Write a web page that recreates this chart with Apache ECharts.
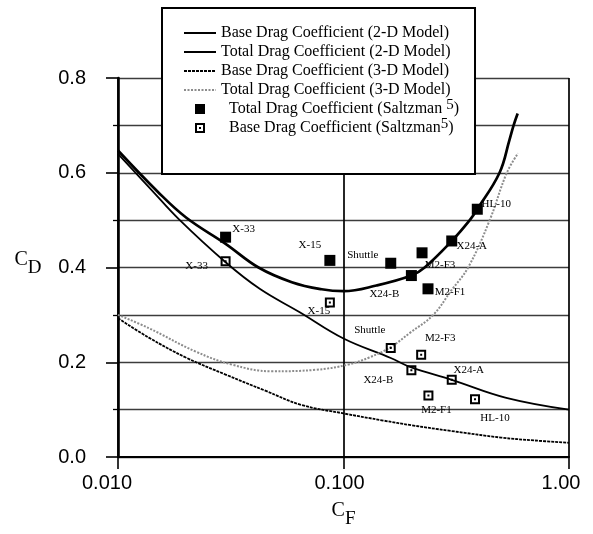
<!DOCTYPE html>
<html><head><meta charset="utf-8">
<script src="https://cdn.jsdelivr.net/npm/echarts@6/dist/echarts.min.js"></script>
<style>html,body{margin:0;padding:0;background:#fff}#c{width:593px;height:534px}</style>
</head><body><div id="c"></div>
<script>
// ---- data ----
const xTickLabels = ['0.010', '0.100', '1.00'];
const yTickLabels = ['0.0', '0.2', '0.4', '0.6', '0.8'];

const seriesNames = [
  'Base Drag Coefficient (2-D Model)',
  'Total Drag Coefficient (2-D Model)',
  'Base Drag Coefficient (3-D Model)',
  'Total Drag Coefficient (3-D Model)',
  'Total Drag Coefficient (Saltzman 5)',
  'Base Drag Coefficient (Saltzman5)'
];

const base2dCF = [0.01, 0.014, 0.0186, 0.030, 0.0425, 0.0637, 0.10, 0.162, 0.200, 0.302, 0.527, 1.0];
const base2dCD = [0.640, 0.565, 0.502, 0.411, 0.355, 0.306, 0.250, 0.209, 0.189, 0.163, 0.125, 0.100];

const total2dCF = [0.01, 0.015, 0.0201, 0.030, 0.042, 0.059, 0.080, 0.100, 0.140, 0.200, 0.229, 0.302, 0.363, 0.392, 0.492, 0.545, 0.568, 0.592];
const total2dCD = [0.647, 0.560, 0.505, 0.450, 0.400, 0.369, 0.354, 0.350, 0.362, 0.383, 0.400, 0.456, 0.500, 0.523, 0.600, 0.670, 0.700, 0.725];

const base3dCF = [0.01, 0.0137, 0.02, 0.03, 0.045, 0.065, 0.1, 0.15, 0.2, 0.3, 0.5, 0.7, 1.0];
const base3dCD = [0.293, 0.252, 0.210, 0.174, 0.140, 0.110, 0.092, 0.077, 0.067, 0.055, 0.041, 0.035, 0.030];

const total3dCF = [0.01, 0.0137, 0.022, 0.032, 0.048, 0.075, 0.105, 0.130, 0.162, 0.197, 0.250, 0.300, 0.357, 0.445, 0.530, 0.594];
const total3dCD = [0.300, 0.272, 0.223, 0.195, 0.181, 0.184, 0.195, 0.210, 0.232, 0.262, 0.300, 0.351, 0.400, 0.500, 0.600, 0.641];

const vehicleNames = ['X-33', 'X-15', 'Shuttle', 'X24-B', 'M2-F3', 'M2-F1', 'X24-A', 'HL-10'];
const saltzTotalCF = [0.030, 0.087, 0.162, 0.200, 0.223, 0.237, 0.302, 0.392];
const saltzTotalCD = [0.464, 0.415, 0.409, 0.383, 0.431, 0.355, 0.456, 0.523];
const saltzBaseCF  = [0.030, 0.087, 0.162, 0.200, 0.221, 0.238, 0.302, 0.383];
const saltzBaseCD  = [0.413, 0.326, 0.230, 0.183, 0.216, 0.130, 0.163, 0.122];

// ---- styling (label placement relative to marker) ----
const totalLabelOffset = {
  'X-33': [18, -8], 'X-15': [-20, -15], 'Shuttle': [-28, -8], 'X24-B': [-27, 19],
  'M2-F3': [18, 12], 'M2-F1': [22, 3], 'X24-A': [20, 5], 'HL-10': [19, -5]
};
const baseLabelOffset = {
  'X-33': [-29, 5], 'X-15': [-11, 9], 'Shuttle': [-21, -18], 'X24-B': [-33, 10],
  'M2-F3': [19, -17], 'M2-F1': [8, 15], 'X24-A': [17, -10], 'HL-10': [20, 19]
};

const SERIF = "'Liberation Serif', 'Times New Roman', serif";
const SANS = "'Liberation Sans', Arial, sans-serif";
const openSquare = 'path://M0,0H10V10H0Z M2,2V8H8V2Z M4,4H6V6H4Z';
const filledSquare = 'path://M0,0H10V10H0Z';

function pairs(xs, ys) { return xs.map((x, i) => [x, ys[i]]); }
function scatterData(xs, ys, offsets) {
  return xs.map((x, i) => ({
    name: vehicleNames[i],
    value: [x, ys[i]],
    label: { offset: offsets[vehicleNames[i]] }
  }));
}

const chart = echarts.init(document.getElementById('c'), null, { renderer: 'canvas' });

const lineBase = (name, xs, ys, lineStyle) => ({
  name, type: 'line', data: pairs(xs, ys), smooth: 0.4, symbol: 'none',
  lineStyle, itemStyle: { color: lineStyle.color }, z: 3
});

const scatterLabel = {
  show: true, position: 'inside', formatter: p => p.name,
  fontFamily: SERIF, fontSize: 11, color: '#000'
};

const noSym = { opacity: 0 };

chart.setOption({
  animation: false,
  backgroundColor: '#fff',
  grid: { left: 118, right: 24, top: 78, bottom: 71, containLabel: false },
  legend: {
    left: 162, top: 8, orient: 'vertical', selectedMode: false,
    backgroundColor: '#fff', borderColor: '#000', borderWidth: 2,
    padding: [14, 16, 35, 21], itemGap: -3, itemWidth: 32, itemHeight: 10,
    textStyle: {
      fontFamily: SERIF, fontSize: 16, color: '#000', lineHeight: 22,
      rich: {
        t: { fontFamily: SERIF, fontSize: 16, color: '#000' },
        ti: { fontFamily: SERIF, fontSize: 16, color: '#000', padding: [0, 0, 0, 8] },
        sup: { fontFamily: SERIF, fontSize: 15, color: '#000', verticalAlign: 'top' }
      }
    },
    formatter: name => {
      const m = name.match(/^(.*Saltzman\s?)5\)$/);
      if (m) return '{ti|' + m[1] + '}{sup|5}{t|)}';
      return name;
    },
    data: [
      { name: seriesNames[0], itemStyle: noSym },
      { name: seriesNames[1], itemStyle: noSym },
      { name: seriesNames[2], itemStyle: noSym },
      { name: seriesNames[3], itemStyle: noSym },
      { name: seriesNames[4], icon: filledSquare },
      { name: seriesNames[5], icon: openSquare }
    ],
    z: 10
  },
  xAxis: {
    type: 'log', logBase: 10, min: 0.01, max: 1,
    name: '{c|C}{s|F}', nameLocation: 'middle', nameGap: 58,
    nameTextStyle: {
      align: 'center', verticalAlign: 'middle',
      rich: {
        c: { fontFamily: SERIF, fontSize: 20, color: '#000', verticalAlign: 'top' },
        s: { fontFamily: SERIF, fontSize: 19, color: '#000', verticalAlign: 'bottom', padding: [9, 0, 0, 0] }
      }
    },
    axisLine: { show: true, onZero: false, lineStyle: { color: '#000', width: 2 } },
    axisTick: { show: true, length: 12, lineStyle: { color: '#000', width: 1.6 } },
    minorTick: { show: false },
    splitLine: { show: true, lineStyle: { color: '#000', width: 1.7 } },
    axisLabel: {
      margin: 16, color: '#000', fontFamily: SANS, fontSize: 20,
      formatter: v => {
        const i = Math.round(Math.log10(v)) + 2;
        return '{s' + i + '|' + xTickLabels[i] + '}';
      },
      rich: {
        s0: { fontFamily: SANS, fontSize: 20, color: '#000', padding: [0, 22, 0, 0] },
        s1: { fontFamily: SANS, fontSize: 20, color: '#000', padding: [0, 8, 0, 0] },
        s2: { fontFamily: SANS, fontSize: 20, color: '#000', padding: [0, 16, 0, 0] }
      }
    }
  },
  yAxis: {
    type: 'value', min: 0, max: 0.8, interval: 0.2,
    name: '{c|C}{s|D}', nameLocation: 'middle', nameGap: 90, nameRotate: 0,
    nameTextStyle: {
      align: 'center', verticalAlign: 'middle', padding: [0, 0, 8, 0],
      rich: {
        c: { fontFamily: SERIF, fontSize: 20, color: '#000', verticalAlign: 'top' },
        s: { fontFamily: SERIF, fontSize: 19, color: '#000', verticalAlign: 'bottom', padding: [9, 0, 0, 0] }
      }
    },
    axisLine: { show: true, onZero: false, lineStyle: { color: '#000', width: 2.6 } },
    axisTick: { show: true, length: 12, lineStyle: { color: '#000', width: 1.6 } },
    minorTick: { show: true, splitNumber: 2, length: 5, lineStyle: { color: '#000', width: 1.3 } },
    splitLine: { show: true, lineStyle: { color: '#3c3c3c', width: 1.3 } },
    minorSplitLine: { show: true, lineStyle: { color: '#3c3c3c', width: 1.3 } },
    axisLabel: {
      margin: 32, color: '#000', fontFamily: SANS, fontSize: 20,
      formatter: v => yTickLabels[Math.round(v / 0.2)]
    }
  },
  series: [
    lineBase(seriesNames[0], base2dCF, base2dCD, { color: '#000', width: 1.8, type: 'solid' }),
    lineBase(seriesNames[1], total2dCF, total2dCD, { color: '#000', width: 2.7, type: 'solid' }),
    lineBase(seriesNames[2], base3dCF, base3dCD, { color: '#000', width: 1.8, type: [3, 1] }),
    lineBase(seriesNames[3], total3dCF, total3dCD, { color: '#8c8c8c', width: 2, type: [2, 1.5] }),
    {
      name: seriesNames[4], type: 'scatter', symbol: 'rect', symbolSize: 11,
      itemStyle: { color: '#000', opacity: 1 }, label: scatterLabel, z: 5,
      data: scatterData(saltzTotalCF, saltzTotalCD, totalLabelOffset)
    },
    {
      name: seriesNames[5], type: 'scatter', symbol: openSquare, symbolSize: 10,
      itemStyle: { color: '#000', opacity: 1 }, label: scatterLabel, z: 5,
      data: scatterData(saltzBaseCF, saltzBaseCD, baseLabelOffset)
    }
  ]
});
</script>
</body></html>
